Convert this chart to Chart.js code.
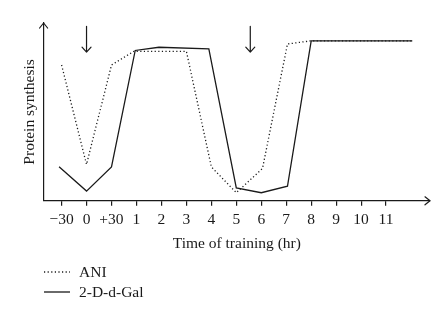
<!DOCTYPE html>
<html>
<head>
<meta charset="utf-8">
<script src="https://cdn.jsdelivr.net/npm/chart.js@4"></script>
<style>
  html, body { margin: 0; padding: 0; background: #fff; }
  #wrap { width: 448px; height: 311px; }
</style>
</head>
<body>
<div id="wrap"><canvas id="synthesisChart"></canvas></div>
<script>
// tick labels along the time axis (index positions 0..13)
const tickLabels = ['\u221230', '0', '+30', '1', '2', '3', '4', '5', '6', '7', '8', '9', '10', '11'];

// 2-D-d-Gal (solid)
const galX = [-0.1, 1, 2, 2.95, 3.9, 5.9, 7, 8, 9.05, 10, 14.05];
const galY = [21, 6, 21, 93, 95, 94, 8, 5, 9, 99, 99];

// ANI (dotted)
const aniX = [0, 1, 2, 2.9, 5, 6, 7, 8.05, 9.05, 10, 14.05];
const aniY = [84, 22.5, 84, 92.5, 92.5, 21, 5, 20, 97, 99, 99];

// training arrows (x position, top and bottom in y units)
const arrowX = [1, 7.56];
const arrowTop = 108;
const arrowBottom = 92;

const ink = '#1a1a1a';
const serif = "'Liberation Serif', 'DejaVu Serif', serif";
const fontSize = 15.5;

const toPoints = (xs, ys) => xs.map((x, i) => ({ x: x, y: ys[i] }));

// axis arrowheads, training arrows and a stacked legend
const decorations = {
    id: 'decorations',
    afterDraw(chart) {
        const ctx = chart.ctx;
        const area = chart.chartArea;
        const xs = chart.scales.x;
        const ys = chart.scales.y;
        ctx.save();
        ctx.strokeStyle = ink;
        ctx.lineWidth = 1.2;
        ctx.lineCap = 'round';
        ctx.lineJoin = 'round';

        // y axis arrowhead
        ctx.beginPath();
        ctx.moveTo(area.left - 4, area.top + 5);
        ctx.lineTo(area.left, area.top);
        ctx.lineTo(area.left + 4, area.top + 5);
        ctx.stroke();

        // x axis arrowhead
        ctx.beginPath();
        ctx.moveTo(area.right - 5, area.bottom - 4);
        ctx.lineTo(area.right, area.bottom);
        ctx.lineTo(area.right - 5, area.bottom + 4);
        ctx.stroke();

        // down arrows
        arrowX.forEach((v) => {
            const px = xs.getPixelForValue(v);
            const top = ys.getPixelForValue(arrowTop);
            const bot = ys.getPixelForValue(arrowBottom);
            ctx.beginPath();
            ctx.moveTo(px, top);
            ctx.lineTo(px, bot);
            ctx.moveTo(px - 4.5, bot - 5);
            ctx.lineTo(px, bot);
            ctx.lineTo(px + 4.5, bot - 5);
            ctx.stroke();
        });

        // legend
        const items = chart.data.datasets;
        ctx.font = fontSize + 'px ' + serif;
        ctx.fillStyle = ink;
        ctx.textBaseline = 'middle';
        ctx.lineCap = 'butt';
        items.forEach((ds, i) => {
            const y = 272 + i * 20;
            ctx.lineWidth = ds.borderWidth;
            ctx.setLineDash(ds.borderDash || []);
            ctx.beginPath();
            ctx.moveTo(44, y);
            ctx.lineTo(70, y);
            ctx.stroke();
            ctx.setLineDash([]);
            ctx.fillText(ds.label, 79, y + 1);
        });
        ctx.restore();
    }
};

const renderChart = () => {
    const ctx = document.getElementById('synthesisChart').getContext('2d');
    new Chart(ctx, {
        type: 'line',
        data: {
            datasets: [{
                label: 'ANI',
                data: toPoints(aniX, aniY),
                borderColor: ink,
                borderWidth: 1.3,
                borderDash: [1.2, 2.4],
                pointRadius: 0,
                tension: 0,
                fill: false,
            }, {
                label: '2-D-d-Gal',
                data: toPoints(galX, galY),
                borderColor: ink,
                borderWidth: 1.3,
                pointRadius: 0,
                tension: 0,
                fill: false,
            }],
        },
        options: {
            responsive: true,
            maintainAspectRatio: false,
            animation: false,
            layout: { padding: { top: 23, right: 18, bottom: 58, left: 21 } },
            plugins: {
                legend: { display: false },
                tooltip: { enabled: false },
            },
            scales: {
                x: {
                    type: 'linear',
                    min: -0.72,
                    max: 14.76,
                    afterBuildTicks: (axis) => {
                        axis.ticks = tickLabels.map((_, i) => ({ value: i }));
                    },
                    ticks: {
                        autoSkip: false,
                        maxRotation: 0,
                        padding: 5,
                        color: ink,
                        font: { family: serif, size: fontSize },
                        callback: (value) => tickLabels[value],
                    },
                    grid: { drawOnChartArea: false, tickLength: 5, color: ink, lineWidth: 1.2 },
                    border: { color: ink, width: 1.2 },
                    title: {
                        display: true,
                        text: 'Time of training (hr)',
                        color: ink,
                        font: { family: serif, size: fontSize },
                        padding: { top: 0, bottom: 0 },
                    },
                },
                y: {
                    min: 0,
                    max: 110,
                    ticks: { display: false, padding: 0 },
                    grid: { display: false },
                    border: { color: ink, width: 1.2 },
                    title: {
                        display: true,
                        text: 'Protein synthesis',
                        color: ink,
                        font: { family: serif, size: fontSize },
                        padding: { top: 0, bottom: -4 },
                    },
                },
            },
        },
        plugins: [decorations],
    });
};

window.addEventListener('load', renderChart);
</script>
</body>
</html>
